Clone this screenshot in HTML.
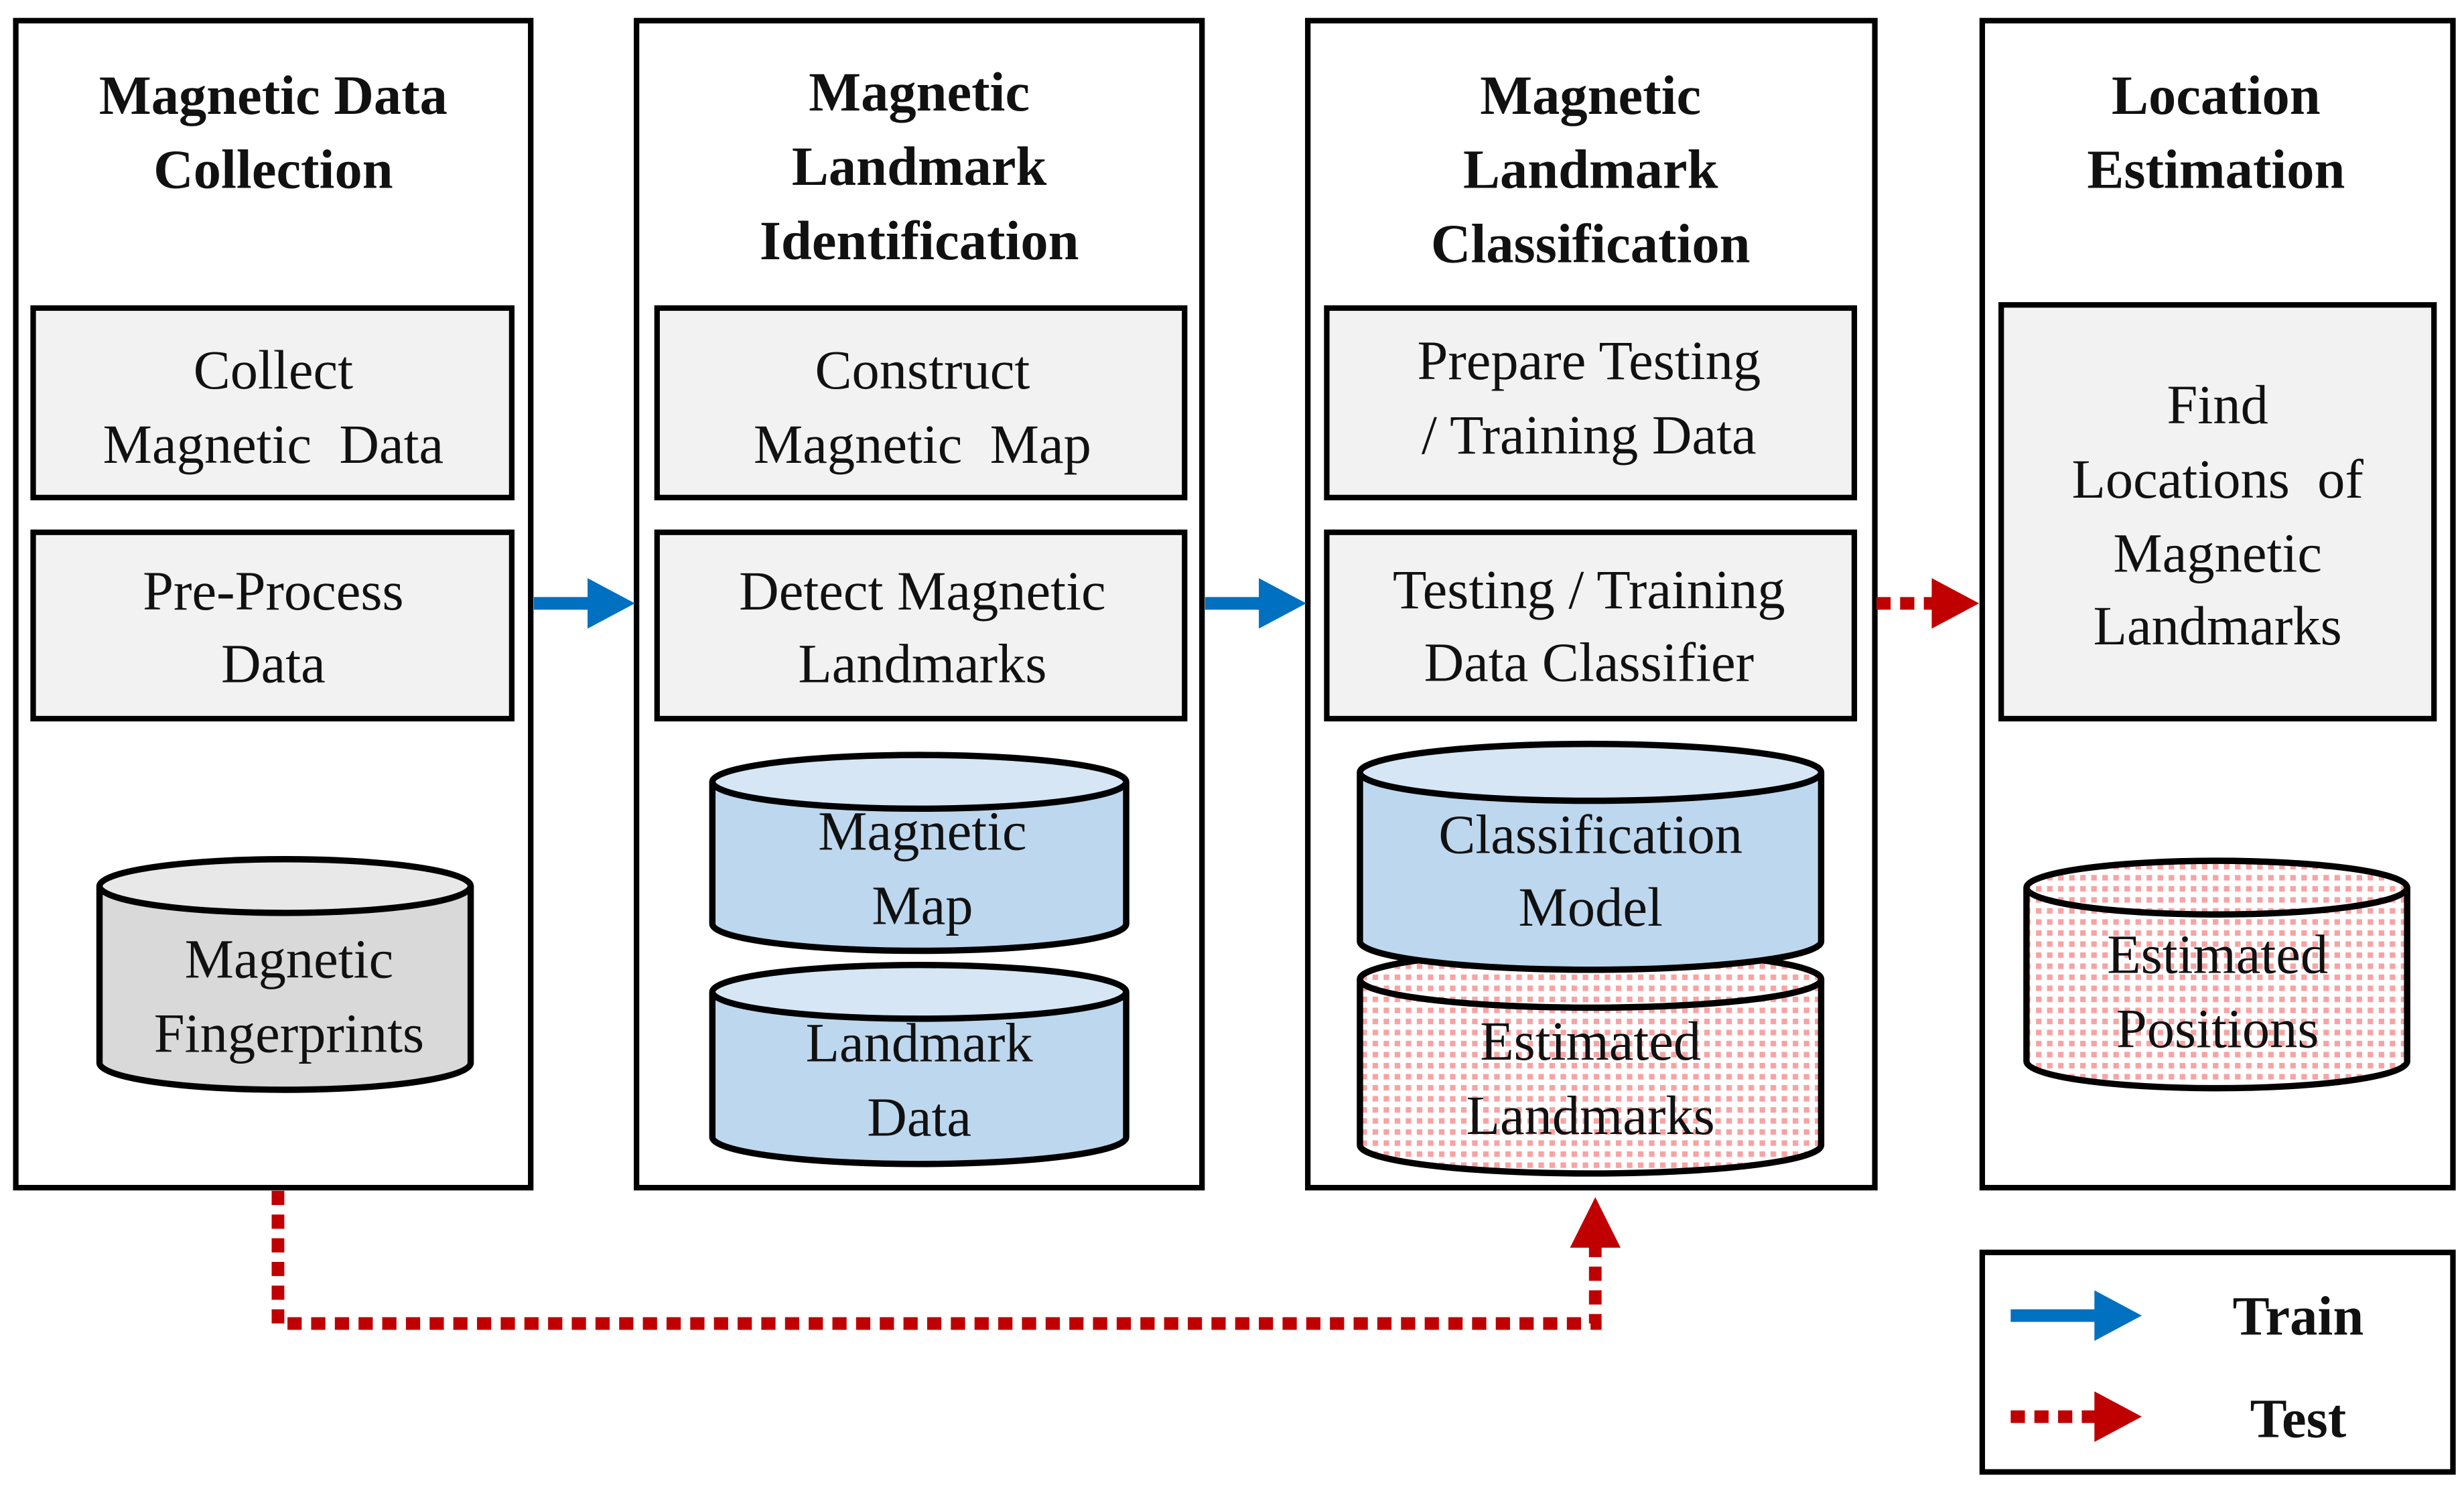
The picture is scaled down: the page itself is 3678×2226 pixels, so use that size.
<!DOCTYPE html>
<html><head><meta charset="utf-8"><style>
html,body{margin:0;padding:0;background:#fff;}
svg{display:block;}
text{font-family:"Liberation Serif",serif;fill:#111;text-anchor:middle;}
.t{font-weight:bold;font-size:35px;}
.b{font-size:35px;}
</style></head><body>
<svg width="3678" height="2226" viewBox="0 0 1560 944" xmlns="http://www.w3.org/2000/svg">
<defs>
<pattern id="dots" width="7" height="7" patternUnits="userSpaceOnUse">
<rect width="7" height="7" fill="#fff"/>
<rect x="1" y="1" width="3.5" height="3.5" fill="#f7a3a3"/>
</pattern>
</defs>
<g fill="#fff" stroke="#000" stroke-width="3.5">
<rect x="10" y="13" width="326" height="739"/>
<rect x="403" y="13" width="358" height="739"/>
<rect x="828" y="13" width="359" height="739"/>
<rect x="1255" y="13" width="298" height="739"/>
<rect x="1255" y="793" width="298" height="139"/>
</g>
<g fill="#f2f2f2" stroke="#000" stroke-width="3.5">
<rect x="21" y="195" width="303" height="120"/>
<rect x="21" y="337" width="303" height="118"/>
<rect x="416" y="195" width="334" height="120"/>
<rect x="416" y="337" width="334" height="118"/>
<rect x="840" y="195" width="334" height="120"/>
<rect x="840" y="337" width="334" height="118"/>
<rect x="1267" y="193" width="274" height="262"/>
</g>
<!-- titles -->
<text class="t" x="173" y="72">Magnetic Data</text>
<text class="t" x="173" y="119">Collection</text>
<text class="t" x="582" y="70">Magnetic</text>
<text class="t" x="582" y="117">Landmark</text>
<text class="t" x="582" y="164">Identification</text>
<text class="t" x="1007" y="72">Magnetic</text>
<text class="t" x="1007" y="119">Landmark</text>
<text class="t" x="1007" y="166">Classification</text>
<text class="t" x="1403" y="72">Location</text>
<text class="t" x="1403" y="119">Estimation</text>
<!-- box texts -->
<text class="b" x="173" y="246">Collect</text>
<text class="b" x="173" y="293">Magnetic&#160; Data</text>
<text class="b" x="173" y="386">Pre-Process</text>
<text class="b" x="173" y="432">Data</text>
<text class="b" x="584" y="246">Construct</text>
<text class="b" x="584" y="293">Magnetic&#160; Map</text>
<text class="b" x="584" y="386">Detect Magnetic</text>
<text class="b" x="584" y="432">Landmarks</text>
<text class="b" x="1006" y="240">Prepare Testing</text>
<text class="b" x="1006" y="287">/ Training Data</text>
<text class="b" x="1006" y="385">Testing / Training</text>
<text class="b" x="1006" y="431">Data Classifier</text>
<text class="b" x="1404" y="268">Find</text>
<text class="b" x="1404" y="315">Locations&#160; of</text>
<text class="b" x="1404" y="362">Magnetic</text>
<text class="b" x="1404" y="408">Landmarks</text>
<!-- cylinders -->
<g stroke="#000" stroke-width="4">
<path d="M63 561 V673 A117.5 17 0 0 0 298 673 V561" fill="#d9d9d9"/>
<ellipse cx="180.5" cy="561" rx="117.5" ry="17" fill="#e8e8e8"/>
<path d="M451 628 V720 A131 17 0 0 0 713 720 V628" fill="#bdd7ee"/>
<ellipse cx="582" cy="628" rx="131" ry="17" fill="#d6e6f5"/>
<path d="M451 495 V585 A131 17 0 0 0 713 585 V495" fill="#bdd7ee"/>
<ellipse cx="582" cy="495" rx="131" ry="17" fill="#d6e6f5"/>
<path d="M861 620 V725 A146 18 0 0 0 1153 725 V620" fill="url(#dots)"/>
<ellipse cx="1007" cy="620" rx="146" ry="18" fill="url(#dots)"/>
<path d="M861 489 V596 A146 18 0 0 0 1153 596 V489" fill="#bdd7ee"/>
<ellipse cx="1007" cy="489" rx="146" ry="18" fill="#d6e6f5"/>
<path d="M1283 562 V672 A120.5 17 0 0 0 1524 672 V562" fill="url(#dots)"/>
<ellipse cx="1403.5" cy="562" rx="120.5" ry="17" fill="url(#dots)"/>
</g>
<text class="b" x="183" y="619">Magnetic</text>
<text class="b" x="183" y="666">Fingerprints</text>
<text class="b" x="584" y="538">Magnetic</text>
<text class="b" x="584" y="585">Map</text>
<text class="b" x="582" y="672">Landmark</text>
<text class="b" x="582" y="719">Data</text>
<text class="b" x="1007" y="540">Classification</text>
<text class="b" x="1007" y="586">Model</text>
<text class="b" x="1007" y="671">Estimated</text>
<text class="b" x="1007" y="718">Landmarks</text>
<text class="b" x="1404" y="616">Estimated</text>
<text class="b" x="1404" y="663">Positions</text>
<!-- blue arrows -->
<g fill="#0070c0" stroke="#0070c0">
<line x1="338" y1="382" x2="375" y2="382" stroke-width="8"/>
<polygon points="372,366 402,382 372,398" stroke="none"/>
<line x1="763" y1="382" x2="800" y2="382" stroke-width="8"/>
<polygon points="797,366 827,382 797,398" stroke="none"/>
<line x1="1273" y1="833" x2="1330" y2="833" stroke-width="8"/>
<polygon points="1326,817 1356,833 1326,849" stroke="none"/>
</g>
<!-- red dotted arrows -->
<g fill="none" stroke="#c00000" stroke-width="8" stroke-dasharray="9 6">
<line x1="1188" y1="382" x2="1226" y2="382"/>
<polyline points="176,754 176,838 1010,838 1010,788"/>
<line x1="1273" y1="897" x2="1328" y2="897"/>
</g>
<g fill="#c00000">
<polygon points="1223,366 1253,382 1223,398"/>
<polygon points="994,790 1010,758 1026,790"/>
<polygon points="1326,881 1356,897 1326,913"/>
</g>
<text class="t" x="1455" y="845">Train</text>
<text class="t" x="1455" y="910">Test</text>
</svg>
</body></html>
